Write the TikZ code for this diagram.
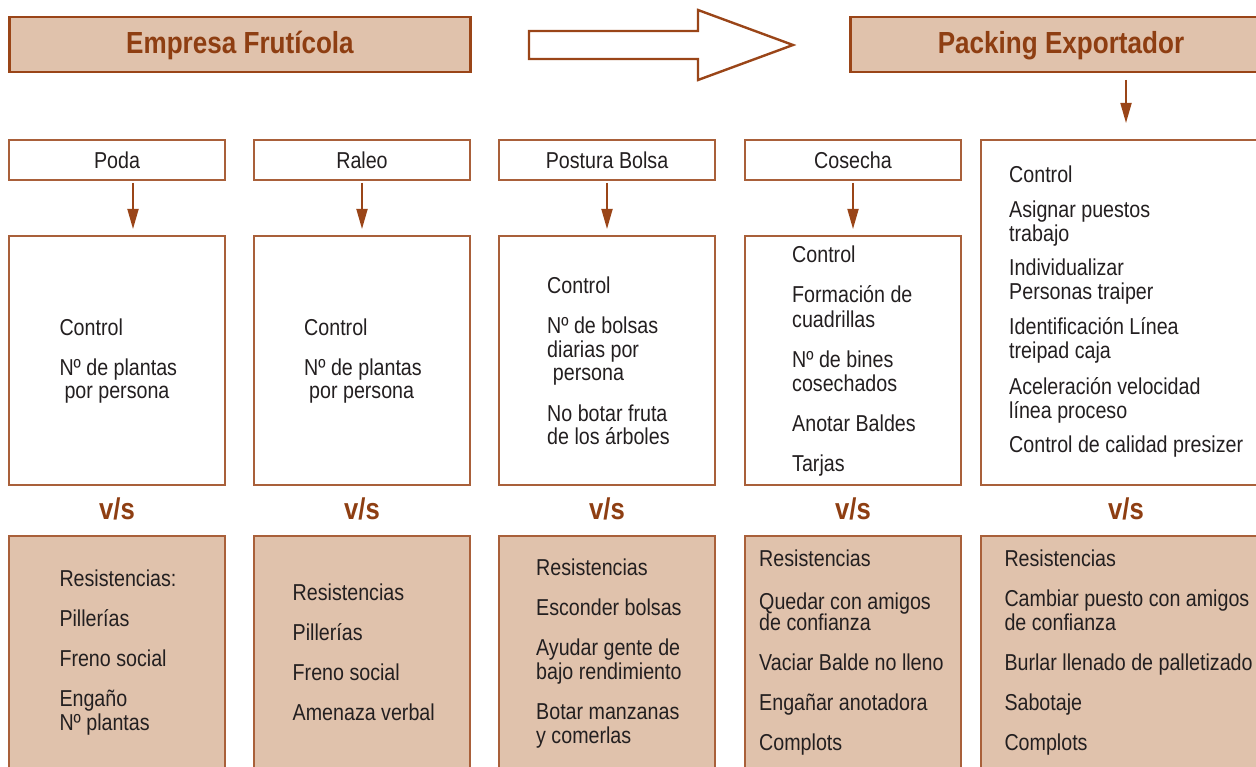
\documentclass[tikz,border=0pt]{standalone}
\usepackage{fontspec}
\setmainfont{Liberation Sans}[FakeStretch=0.855]
\usetikzlibrary{arrows.meta}
\definecolor{fillb}{HTML}{E0C2AC}
\definecolor{brd}{HTML}{9A4518}
\definecolor{brdl}{HTML}{A9603A}
\definecolor{hdtxt}{HTML}{8E3E12}
\definecolor{txt}{HTML}{231F20}
\begin{document}
\begin{tikzpicture}[x=1pt,y=-1pt,
  hdr/.style={draw=brd, line width=2.4pt, fill=fillb, anchor=north west, inner sep=0pt, outer sep=0pt},
  sbox/.style={draw=brdl, line width=1.3pt, fill=white, anchor=north west, inner sep=0pt, outer sep=0pt},
  rbox/.style={draw=brdl, line width=1.3pt, fill=fillb, anchor=north west, inner sep=0pt, outer sep=0pt},
  body/.style={text=txt, font=\fontsize{23}{24}\selectfont, inner sep=0pt, anchor=base west},
  title/.style={text=txt, font=\fontsize{23}{24}\selectfont, inner sep=0pt, anchor=base},
  htext/.style={text=hdtxt, font=\fontsize{30.5}{34}\selectfont\bfseries, inner sep=0pt, anchor=base},
  vs/.style={text=hdtxt, font=\fontsize{30}{32}\selectfont\bfseries, inner sep=0pt, anchor=base},
  arr/.style={draw=brd, line width=1.8pt, -{Triangle[width=11pt,length=20pt]}}
]
\useasboundingbox (0,0) rectangle (1256,767);

% headers
\node[hdr, minimum width=461pt, minimum height=55pt] (hemp) at (9.5,17) {};
\node[htext] (temp) at (240,53.3) {Empresa Frutícola};
\node[hdr, minimum width=430pt, minimum height=55pt] (hpack) at (850.5,17) {};
\node[htext] (tpack) at (1061,53.3) {Packing Exportador};

% big hollow arrow
\draw[brd, line width=2.4pt, fill=white, line join=miter]
  (529,31) -- (698,31) -- (698,10) -- (793,45) -- (698,80) -- (698,59) -- (529,59) -- cycle;

% row 1 boxes
\node[sbox, minimum width=216pt, minimum height=40pt] (r1) at (9,140) {};
\node[sbox, minimum width=216pt, minimum height=40pt] (r2) at (254,140) {};
\node[sbox, minimum width=216pt, minimum height=40pt] (r3) at (499,140) {};
\node[sbox, minimum width=216pt, minimum height=40pt] (r4) at (745,140) {};
\node[title] (t1) at (117,168.3) {Poda};
\node[title] (t2) at (362,168.3) {Raleo};
\node[title] (t3) at (607,168.3) {Postura Bolsa};
\node[title] (t4) at (853,168.3) {Cosecha};

% middle boxes
\node[sbox, minimum width=216pt, minimum height=249pt] (m1) at (9,236) {};
\node[sbox, minimum width=216pt, minimum height=249pt] (m2) at (254,236) {};
\node[sbox, minimum width=216pt, minimum height=249pt] (m3) at (499,236) {};
\node[sbox, minimum width=216pt, minimum height=249pt] (m4) at (745,236) {};
\node[sbox, minimum width=300pt, minimum height=345pt] (m5) at (981,140) {};

% bottom boxes
\node[rbox, minimum width=216pt, minimum height=260pt] (b1) at (9,536) {};
\node[rbox, minimum width=216pt, minimum height=260pt] (b2) at (254,536) {};
\node[rbox, minimum width=216pt, minimum height=260pt] (b3) at (499,536) {};
\node[rbox, minimum width=216pt, minimum height=260pt] (b4) at (745,536) {};
\node[rbox, minimum width=300pt, minimum height=260pt] (b5) at (981,536) {};

% arrows
\draw[arr, shorten <=3pt, shorten >=7pt] ([xshift=16pt]r1.south) -- ([xshift=16pt]m1.north);
\draw[arr, shorten <=3pt, shorten >=7pt] (r2.south) -- (m2.north);
\draw[arr, shorten <=3pt, shorten >=7pt] (r3.south) -- (m3.north);
\draw[arr, shorten <=3pt, shorten >=7pt] (r4.south) -- (m4.north);
\coordinate (pk) at (1126,72);
\draw[arr, shorten <=8pt, shorten >=17pt] (pk) -- (m5.north -| pk);

% v/s
\node[vs] (vs1) at (117,519.3) {v/s};
\node[vs] (vs2) at (362,519.3) {v/s};
\node[vs] (vs3) at (607,519.3) {v/s};
\node[vs] (vs4) at (853,519.3) {v/s};
\node[vs] (vs5) at (1126,519.3) {v/s};

% middle texts
\foreach \xx/\yy/\tx [count=\i] in {59.3/336/Control, 59.3/375/Nº de plantas, 64.3/399/por persona}
  \node[body] (ma\i) at (\xx,\yy) {\tx};
\foreach \xx/\yy/\tx [count=\i] in {304/336/Control, 304/375/Nº de plantas, 309/399/por persona}
  \node[body] (mb\i) at (\xx,\yy) {\tx};
\foreach \xx/\yy/\tx [count=\i] in {547/293.3/Control, 547/333.3/Nº de bolsas, 547/357.3/diarias por, 552.7/381/persona, 547/421/No botar fruta, 547/444.5/de los árboles}
  \node[body] (mc\i) at (\xx,\yy) {\tx};
\foreach \xx/\yy/\tx [count=\i] in {792/263/Control, 792/303/Formación de, 792/327/cuadrillas, 792/367/Nº de bines, 792/391/cosechados, 792/431/Anotar Baldes, 792/471/Tarjas}
  \node[body] (md\i) at (\xx,\yy) {\tx};
\foreach \xx/\yy/\tx [count=\i] in {1009/183/Control, 1009/218/Asignar puestos, 1009/242/trabajo, 1009/276/Individualizar, 1009/300/Personas traiper, 1009/335/Identificación Línea, 1009/359/treipad caja, 1009/394/Aceleración velocidad, 1009/418/línea proceso, 1009/452/Control de calidad presizer}
  \node[body] (me\i) at (\xx,\yy) {\tx};

% bottom texts
\foreach \xx/\yy/\tx [count=\i] in {59.3/586.7/Resistencias:, 59.3/626.7/Pillerías, 59.3/666.7/Freno social, 59.3/706.7/Engaño, 59.3/730.7/Nº plantas}
  \node[body] (ba\i) at (\xx,\yy) {\tx};
\foreach \xx/\yy/\tx [count=\i] in {292.5/600.7/Resistencias, 292.5/640.7/Pillerías, 292.5/680.7/Freno social, 292.5/720.7/Amenaza verbal}
  \node[body] (bb\i) at (\xx,\yy) {\tx};
\foreach \xx/\yy/\tx [count=\i] in {536/575/Resistencias, 536/615/Esconder bolsas, 536/655/Ayudar gente de, 536/679/bajo rendimiento, 536/719/Botar manzanas, 536/743/y comerlas}
  \node[body] (bc\i) at (\xx,\yy) {\tx};
\foreach \xx/\yy/\tx [count=\i] in {759/566.7/Resistencias, 759/609.3/Quedar con amigos, 759/630.7/de confianza, 759/670.7/Vaciar Balde no lleno, 759/710.7/Engañar anotadora, 759/750.7/Complots}
  \node[body] (bd\i) at (\xx,\yy) {\tx};
\foreach \xx/\yy/\tx [count=\i] in {1004.3/566.7/Resistencias, 1004.3/606.7/Cambiar puesto con amigos, 1004.3/630.7/de confianza, 1004.3/670.7/Burlar llenado de palletizado, 1004.3/710.7/Sabotaje, 1004.3/750.7/Complots}
  \node[body] (be\i) at (\xx,\yy) {\tx};
\end{tikzpicture}
\end{document}
